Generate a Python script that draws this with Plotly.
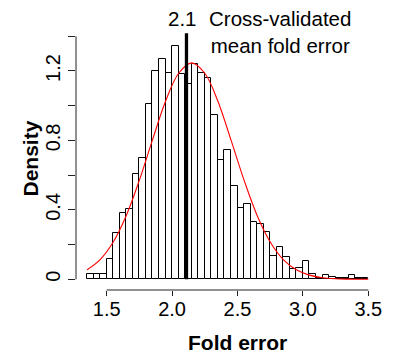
import numpy as np
import plotly.graph_objects as go

# ---- data ----
bin_start = 1.35
bin_width = 0.05
density = [0.033, 0.033, 0.033, 0.119, 0.267, 0.380, 0.403, 0.605, 0.699, 1.012,
           1.198, 1.269, 1.190, 1.344, 1.182, 1.125, 1.238, 1.190, 1.158, 0.945,
           0.685, 0.745, 0.540, 0.411, 0.432, 0.332, 0.319, 0.271, 0.132, 0.186,
           0.127, 0.060, 0.065, 0.106, 0.028, 0.006, 0.022, 0.015, 0.006, 0.006,
           0.026, 0.006, 0.006]

curve_x = [1.35, 1.45, 1.55, 1.65, 1.75, 1.85, 1.95, 2.05, 2.15, 2.25, 2.35, 2.45,
           2.55, 2.65, 2.75, 2.85, 2.95, 3.05, 3.15, 3.25, 3.35, 3.45, 3.50]
curve_y = [0.055, 0.114, 0.215, 0.368, 0.571, 0.803, 1.026, 1.187, 1.247, 1.187,
           1.026, 0.803, 0.571, 0.368, 0.215, 0.114, 0.055, 0.024, 0.009, 0.003,
           0.001, 0.0003, 0.0002]

cv_mean = 2.11
cv_top = 1.417
cv_label = "2.1"
note_text = "Cross-validated<br>mean fold error"

x_ticks = [1.5, 2.0, 2.5, 3.0, 3.5]
x_ticktext = ["1.5", "2.0", "2.5", "3.0", "3.5"]
y_ticks = [0, 0.2, 0.4, 0.6, 0.8, 1.0, 1.2, 1.4]
y_ticktext = ["0", "", "0.4", "", "0.8", "", "1.2", ""]

x_title = "Fold error"
y_title = "Density"

# ---- figure ----
n = len(density)
centers = bin_start + bin_width * (np.arange(n) + 0.5)

FONT = "Liberation Sans, Arial, Helvetica, sans-serif"

fig = go.Figure()
fig.add_trace(go.Bar(x=centers, y=density, width=bin_width,
                     marker=dict(color="white", line=dict(color="black", width=1)),
                     hoverinfo="skip"))
fig.add_trace(go.Scatter(x=curve_x, y=curve_y, mode="lines",
                         line=dict(color="#ff0000", width=1.1, shape="spline")))
fig.add_trace(go.Scatter(x=[cv_mean, cv_mean], y=[0, cv_top], mode="lines",
                         line=dict(color="black", width=3.3)))

# R style axis lines spanning only the tick range
fig.add_shape(type="line", xref="x", yref="paper", x0=x_ticks[0], x1=x_ticks[-1],
              y0=0, y1=0, line=dict(color="#222", width=1))
fig.add_shape(type="line", xref="paper", yref="y", x0=0, x1=0,
              y0=y_ticks[0], y1=y_ticks[-1], line=dict(color="#222", width=1))

W, H = 404, 360
L, R, T, B = 76, 24, 20, 70
pw, ph = W - L - R, H - T - B

def px_x(p):
    return (p - L) / pw

def px_y(p):
    return (H - B - p) / ph

fig.add_annotation(text=cv_label, xref="paper", yref="paper",
                   x=px_x(182.5), y=px_y(19), showarrow=False,
                   xanchor="center", yanchor="middle",
                   font=dict(size=20.5, color="black", family=FONT))
fig.add_annotation(text=note_text, xref="paper", yref="paper",
                   x=px_x(280), y=px_y(31.5), showarrow=False,
                   xanchor="center", yanchor="middle",
                   font=dict(size=20.5, color="black", family=FONT))
fig.add_annotation(text="<b>" + x_title + "</b>", xref="paper", yref="paper",
                   x=px_x(237.8), y=px_y(342.3), showarrow=False,
                   xanchor="center", yanchor="middle",
                   font=dict(size=21, color="black", family=FONT))
fig.add_annotation(text="<b>" + y_title + "</b>", xref="paper", yref="paper",
                   x=px_x(29.5), y=px_y(159), showarrow=False, textangle=-90,
                   xanchor="center", yanchor="middle",
                   font=dict(size=21, color="black", family=FONT))

fig.update_layout(
    width=W, height=H,
    margin=dict(l=L, r=R, t=T, b=B, pad=0),
    paper_bgcolor="white", plot_bgcolor="white",
    showlegend=False, bargap=0,
    font=dict(family=FONT, size=20, color="black"),
    xaxis=dict(range=[1.2653, 3.5895], showgrid=False, zeroline=False, showline=False,
               tickmode="array", tickvals=x_ticks, ticktext=x_ticktext,
               ticks="outside", ticklen=5, tickcolor="#222", tickwidth=1,
               ticklabelstandoff=-4,
               tickfont=dict(size=20, color="black")),
    yaxis=dict(range=[-0.0616, 1.4937], showgrid=False, zeroline=False, showline=False,
               tickmode="array", tickvals=y_ticks, ticktext=y_ticktext,
               ticks="outside", ticklen=7, tickcolor="#222", tickwidth=1,
               tickangle=-90, tickfont=dict(size=20, color="black")),
)

fig.write_html("out.html")
